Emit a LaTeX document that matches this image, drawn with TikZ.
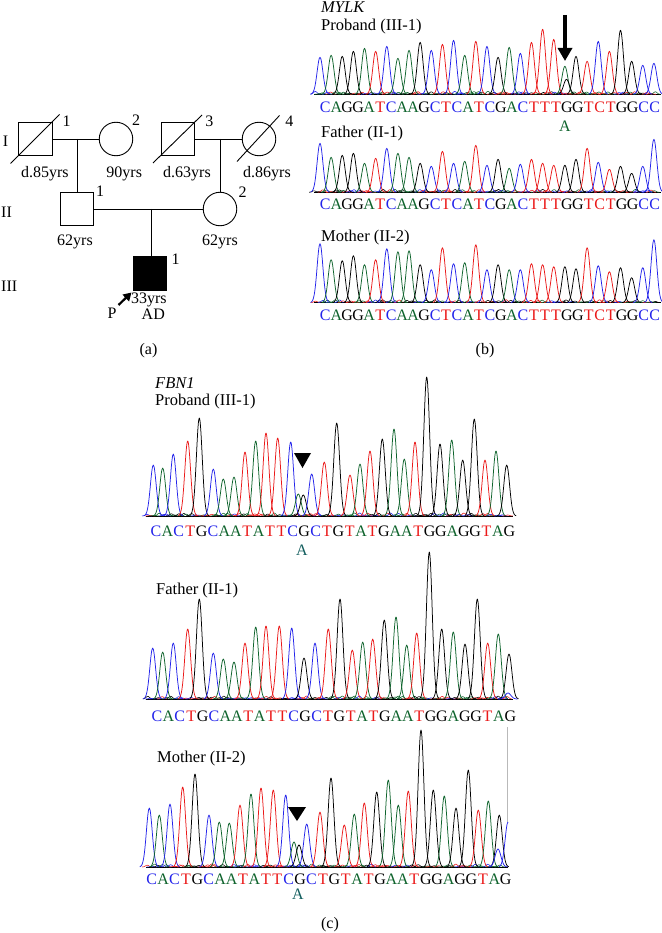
\documentclass[tikz,border=0pt]{standalone}
\usepackage{fontspec}
\setmainfont{Liberation Serif}
\usetikzlibrary{arrows.meta}
\definecolor{cB}{RGB}{35,35,235}
\definecolor{cG}{RGB}{15,100,45}
\definecolor{cR}{RGB}{235,25,25}
\definecolor{cK}{RGB}{0,0,0}
\definecolor{cA}{RGB}{20,95,95}
\newcommand\bl{0}
\newcommand\pk[3]{\draw[trace,#3] plot[domain=-9.5:9.5,samples=27,smooth] ({#1+\x},{\bl-#2*exp(0-(\x*\x)/16.8)});}
\newcommand\noise[3]{%
  \pgfmathsetseed{#3}%
  \foreach \k in {0,...,#2}{%
    \pgfmathsetmacro\q{#1+\k*4+2*rnd}%
    \pgfmathsetmacro\nh{0.6+2.4*rnd}%
    \pgfmathrandominteger{\ci}{1}{4}%
    \ifcase\ci\or\def\nc{cR}\or\def\nc{cK}\or\def\nc{cG}\or\def\nc{cB}\fi
    \draw[noisel,\nc] plot[domain=-5:5,samples=11,smooth] ({\q+\x},{\bl-\nh*exp(0-(\x*\x)/6)});
  }}
\newcommand\mylkseq{C/cB,A/cG,G/cK,G/cK,A/cG,T/cR,C/cB,A/cG,A/cG,G/cK,C/cB,T/cR,C/cB,A/cG,T/cR,C/cB,G/cK,A/cG,C/cB,T/cR,T/cR,T/cR,G/cK,G/cK,T/cR,C/cR,T/cR,G/cK,G/cK,C/cB,C/cB}
\newcommand\fbnseq{C/cB,A/cG,C/cB,T/cR,G/cK,C/cB,A/cG,A/cG,T/cR,A/cG,T/cR,T/cR,C/cB,G/cK,C/cB,T/cR,G/cK,T/cR,A/cG,T/cR,G/cK,A/cG,A/cG,T/cR,G/cK,G/cK,A/cG,G/cK,G/cK,T/cR,A/cG,G/cK}
\begin{document}
\begin{tikzpicture}[x=1pt,y=-1pt,
  every node/.style={inner sep=0pt},
  lbl/.style={font=\fontsize{16}{18}\selectfont, anchor=base},
  lblw/.style={font=\fontsize{16.5}{18}\selectfont, anchor=base west},
  seqc/.style={font=\fontsize{16}{18}\selectfont, anchor=base},
  pline/.style={line width=0.9pt},
  sq/.style={draw, rectangle, minimum size=33.5pt, line width=0.9pt},
  ci/.style={draw, circle, minimum size=33.5pt, line width=0.9pt},
  trace/.style={line width=0.75pt, line join=round},
  noisel/.style={line width=0.55pt},
  baseln/.style={line width=0.9pt, black}]
\useasboundingbox (0,0) rectangle (661,933);
\fill[white] (0,0) rectangle (661,933);

% ---------------- (a) pedigree ----------------
\node[sq] (I1) at (35.5,139) {};
\node[ci] (I2) at (116,139) {};
\node[sq] (I3) at (178,139) {};
\node[ci] (I4) at (259,139) {};
\node[sq] (II1) at (76.7,209) {};
\node[ci] (II2) at (220,209) {};
\node[sq,fill=black] (III1) at (150,273.5) {};
\draw[pline] (I1.east) -- (I2.west);
\coordinate (m1) at (77.7,139);
\draw[pline] (m1) -- (m1 |- II1.north);
\draw[pline] (I3.east) -- (I4.west);
\coordinate (m2) at (220,139);
\draw[pline] (m2) -- (II2.north);
\draw[pline] (II1.east) -- (II2.west);
\coordinate (m3) at (151,209);
\draw[pline] (m3) -- (m3 |- III1.north);
\draw[pline] ([shift={(-25,24.5)}]I1.center) -- ([shift={(24,-24.5)}]I1.center);
\draw[pline] ([shift={(-25,24)}]I3.center) -- ([shift={(24,-24)}]I3.center);
\draw[pline] ([shift={(-22,22.5)}]I4.center) -- ([shift={(20.5,-23.5)}]I4.center);
\node[lbl] (nI1) at (66.7,126.7) {1};
\node[lbl] (nI2) at (136,126) {2};
\node[lbl] (nI3) at (209.3,126.7) {3};
\node[lbl] (nI4) at (289.3,126.7) {4};
\node[lbl] (nII1) at (100,196.7) {1};
\node[lbl] (nII2) at (242.7,197.3) {2};
\node[lbl] (nIII1) at (175.7,264.3) {1};
\node[lbl,anchor=base west] (gI) at (2.7,146.7) {I};
\node[lbl,anchor=base west] (gII) at (1,217.3) {II};
\node[lbl,anchor=base west] (gIII) at (1,291.7) {III};
\node[lbl] (a1) at (44.8,178) {d.85yrs};
\node[lbl] (a2) at (124.2,178) {90yrs};
\node[lbl] (a3) at (187,178) {d.63yrs};
\node[lbl] (a4) at (267,178) {d.86yrs};
\node[lbl] (a5) at (75,245) {62yrs};
\node[lbl] (a6) at (220,245) {62yrs};
\node[lbl] (a7) at (148.8,303.3) {33yrs};
\node[lbl] (a8) at (153.3,319.3) {AD};
\node[lbl] (pP) at (112,318.3) {P};
\coordinate (pa0) at (118.5,305);
\coordinate (pa1) at (131.5,292.5);
\draw[line width=2.2pt, -{Triangle[length=8pt,width=9pt]}] (pa0) -- (pa1);
\node[lbl] (la) at (148.5,354) {(a)};

% ---------------- (b) MYLK ----------------
\node[lblw] (mylk) at (321,13) {\itshape MYLK};
\node[lblw] (mp) at (321,30.7) {Proband (III-1)};
\node[lblw] (mf) at (321,137.7) {Father (II-1)};
\node[lblw] (mm) at (321,241) {Mother (II-2)};
% proband trace
\renewcommand\bl{94.3}
\draw[baseln] (314,94.3) -- (661,94.3);
\noise{314}{85}{11}
\foreach \hh/\cc [count=\i] in {37/cB,39/cG,38/cK,43/cK,46/cG,43/cR,48/cB,36/cG,44/cG,52/cK,44/cB,50/cR,54/cB,39/cG,53/cR,48/cB,37/cK,47/cG,41/cB,52/cR,65/cR,55/cR,28/cG,38/cK,33/cR,53/cB,43/cR,64/cK,33/cK,29/cB,31/cB}
  {\pgfmathsetmacro\xx{320+(\i-1)*11.13}\pk{\xx}{\hh}{\cc}}
\pk{566.5}{15}{cK}
\foreach \l/\cc [count=\i] in \mylkseq
  {\node[seqc,text=\cc] (ps\i) at ({325.3+(\i-1)*10.98},112.7) {\l};}
\node[seqc,text=cG] (pmut) at (565,131.7) {A};
\coordinate (ar0) at (565,15);
\coordinate (ar1) at (565,61);
\draw[line width=4.5pt,-{Triangle[length=13pt,width=14pt]}] (ar0) -- (ar1);
% father trace
\renewcommand\bl{192.3}
\draw[baseln] (314,192.3) -- (661,192.3);
\noise{314}{85}{23}
\foreach \hh/\cc [count=\i] in {49/cB,35/cG,37/cK,39/cK,29/cG,34/cR,44/cB,39/cG,35/cG,29/cK,26/cB,41/cR,29/cB,31/cG,47/cR,27/cB,33/cK,24/cG,28/cB,33/cR,29/cR,27/cR,27/cK,33/cK,44/cR,30/cB,23/cR,26/cK,19/cK,26/cB,53/cB}
  {\pgfmathsetmacro\xx{320+(\i-1)*11.13}\pk{\xx}{\hh}{\cc}}
\foreach \l/\cc [count=\i] in \mylkseq
  {\node[seqc,text=\cc] (fs\i) at ({325.3+(\i-1)*10.98},210) {\l};}
% mother trace
\renewcommand\bl{302.7}
\draw[baseln] (314,302.7) -- (661,302.7);
\noise{314}{85}{37}
\foreach \hh/\cc [count=\i] in {59/cB,43/cG,42/cK,47/cK,38/cG,43/cR,54/cB,51/cG,52/cG,38/cK,33/cB,55/cR,39/cB,40/cG,58/cR,33/cB,38/cK,33/cG,33/cB,39/cR,38/cR,36/cR,36/cK,34/cK,55/cR,37/cB,31/cR,35/cK,25/cK,35/cB,63/cB}
  {\pgfmathsetmacro\xx{320+(\i-1)*11.13}\pk{\xx}{\hh}{\cc}}
\foreach \l/\cc [count=\i] in \mylkseq
  {\node[seqc,text=\cc] (ms\i) at ({325.3+(\i-1)*10.98},320) {\l};}
\node[lbl] (lb) at (485,354) {(b)};

% ---------------- (c) FBN1 ----------------
\node[lblw] (fbn) at (155,388.3) {\itshape FBN1};
\node[lblw] (cp) at (155,405) {Proband (III-1)};
\node[lblw] (cf) at (156,594) {Father (II-1)};
\node[lblw] (cm) at (157,762.7) {Mother (II-2)};
\draw[gray!55, line width=0.5pt] (507,727) -- (507,822);
% proband
\renewcommand\bl{516}
\draw[baseln] (146,516) -- (513,516);
\noise{146}{90}{51}
\foreach \xx/\hh/\cc in {153.3/51/cB,162.7/48/cG,173.3/62/cB,187.7/75/cR,199.3/98/cK,213.3/47/cB,223.3/37/cG,234/39/cG,245/64/cR,255.7/75/cG,266/83/cR,277.7/78/cR,290.7/74/cB,298.3/22/cG,303.3/21/cK,311.7/42/cB,324.3/54/cR,336.7/93/cK,350/41/cR,360/52/cG,370/65/cR,382.3/77/cK,394/87/cG,404.3/57/cG,415/74/cR,426.7/139/cK,440/72/cK,451.7/76/cG,462.7/56/cK,474.3/97/cK,485/56/cR,496/65/cG,506.7/51/cK}
  {\pk{\xx}{\hh}{\cc}}
\foreach \l/\cc [count=\i] in \fbnseq
  {\node[seqc,text=\cc] (cps\i) at ({156+(\i-1)*11.4},536.7) {\l};}
\node[seqc,text=cA] (cpmut) at (302,555) {A};
\fill (294,453) -- (311,453) -- (302.5,468) -- cycle;
% father
\renewcommand\bl{699}
\draw[baseln] (146,699) -- (513,699);
\noise{146}{90}{63}
\foreach \xx/\hh/\cc in {152.7/51/cB,162.7/47/cG,173.3/56/cB,187.7/70/cR,199.3/100/cK,213.3/46/cB,223.3/40/cG,234/37/cG,245/56/cR,255.7/72/cG,266/73/cR,279.3/73/cR,291.7/71/cB,304/41/cK,315/56/cB,328.3/70/cR,340/100/cK,352.3/49/cR,362.7/57/cG,372.7/60/cR,384.3/79/cK,396/82/cG,406.7/54/cG,416.7/66/cR,429.3/147/cK,441.7/70/cK,453.3/67/cG,465/55/cK,477.3/100/cK,487.7/56/cR,498.3/65/cG,509/45/cK,508/6/cB}
  {\pk{\xx}{\hh}{\cc}}
\foreach \l/\cc [count=\i] in \fbnseq
  {\node[seqc,text=\cc] (cfs\i) at ({157+(\i-1)*11.4},721.7) {\l};}
% mother
\renewcommand\bl{867}
\draw[baseln] (146,867) -- (508,867);
\noise{146}{88}{77}
\foreach \xx/\hh/\cc in {149.3/59/cB,159.3/52/cG,170/63/cB,182.7/80/cR,195/93/cK,209/52/cB,219.3/45/cG,229.3/44/cG,240/62/cR,251/73/cG,261/79/cR,273.3/77/cR,285.7/72/cB,294/25/cG,299/22/cK,306.7/43/cB,320/55/cR,331/89/cK,344.3/42/cR,354.3/53/cG,364.3/64/cR,376.7/75/cK,388.3/87/cG,398.3/62/cG,408.3/76/cR,421/137/cK,433.3/77/cK,444.3/71/cG,456/59/cK,468.3/97/cK,478.3/57/cR,488.3/66/cG,499.3/52/cK,498/18/cB}
  {\pk{\xx}{\hh}{\cc}}
\draw[trace,cB] plot[domain=-9:0,samples=12,smooth] ({508+\x},{867-45*exp(0-(\x*\x)/16.8)});
\foreach \l/\cc [count=\i] in \fbnseq
  {\node[seqc,text=\cc] (cms\i) at ({151.7+(\i-1)*11.42},884) {\l};}
\node[seqc,text=cA] (cmmut) at (298,899) {A};
\fill (288,807) -- (306,807) -- (297,821) -- cycle;
\node[lbl] (lc) at (330,928) {(c)};
\end{tikzpicture}
\end{document}
